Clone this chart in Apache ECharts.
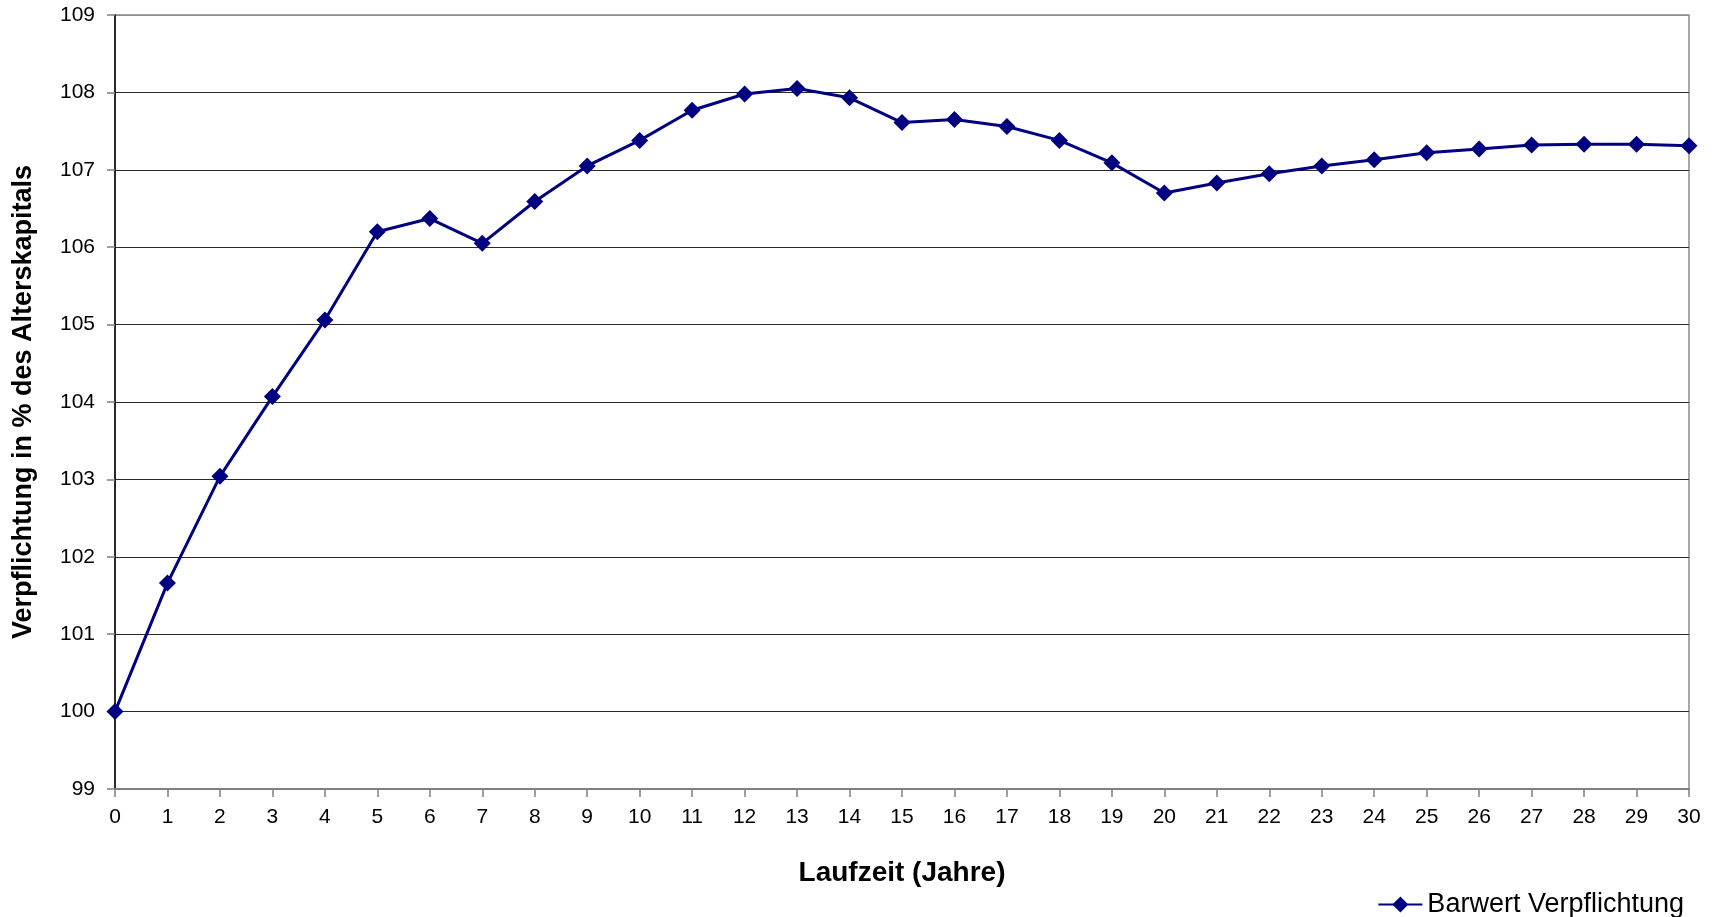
<!DOCTYPE html>
<html>
<head>
<meta charset="utf-8">
<script src="https://cdn.jsdelivr.net/npm/echarts@6/dist/echarts.min.js"></script>
<style>
  html, body { margin: 0; padding: 0; background: #fff; }
  #chart { width: 1716px; height: 917px; }
</style>
</head>
<body>
<div id="chart"></div>
<script>
// Laufzeit in Jahren (0 … 30)
const years = ['0','1','2','3','4','5','6','7','8','9','10','11','12','13','14','15',
               '16','17','18','19','20','21','22','23','24','25','26','27','28','29','30'];

// Barwert der Verpflichtung in % des Alterskapitals
const barwert = [100.00, 101.66, 103.04, 104.07, 105.06, 106.20, 106.37, 106.05, 106.59, 107.05,
                 107.38, 107.77, 107.98, 108.05, 107.93, 107.61, 107.65, 107.56, 107.38, 107.09,
                 106.70, 106.83, 106.95, 107.05, 107.13, 107.22, 107.27, 107.32, 107.33, 107.33,
                 107.31];

const seriesName = 'Barwert Verpflichtung';
const xTitle = 'Laufzeit (Jahre)';
const yTitle = 'Verpflichtung in % des Alterskapitals';

const FONT = '"Liberation Sans", Arial, sans-serif';

// gridlines 99 … 109; the outermost one sits on the grey plot frame
const gridColors = ['#2a2a2a','#2a2a2a','#2a2a2a','#2a2a2a','#2a2a2a','#2a2a2a',
                    '#2a2a2a','#2a2a2a','#2a2a2a','#2a2a2a','#8c8c8c'];

const chart = echarts.init(document.getElementById('chart'), null, { renderer: 'canvas' });

chart.setOption({
  backgroundColor: '#ffffff',
  animation: false,
  textStyle: { fontFamily: FONT, color: '#000' },
  grid: { left: 115, right: 27, top: 15, bottom: 128, show: true,
          borderColor: '#8c8c8c', borderWidth: 1.5 },
  legend: {
    right: 27, top: 886,
    itemWidth: 44, itemHeight: 20, itemGap: 8,
    textStyle: { fontFamily: FONT, fontSize: 27, color: '#000' },
    data: [seriesName]
  },
  xAxis: {
    type: 'category',
    data: years,
    boundaryGap: false,
    name: xTitle,
    nameLocation: 'middle',
    nameGap: 70,
    nameTextStyle: { fontFamily: FONT, fontSize: 28, fontWeight: 'bold', color: '#000' },
    axisLine: { lineStyle: { color: '#808080', width: 2 } },
    axisTick: { show: true, length: 8, alignWithLabel: true, lineStyle: { color: '#808080', width: 1.5 } },
    axisLabel: { fontFamily: FONT, fontSize: 21, color: '#000', margin: 18, interval: 0 },
    splitLine: { show: false }
  },
  yAxis: {
    type: 'value',
    min: 99, max: 109, interval: 1,
    name: yTitle,
    nameLocation: 'middle',
    nameGap: 78,
    nameRotate: 90,
    nameTextStyle: { fontFamily: FONT, fontSize: 27, fontWeight: 'bold', color: '#000' },
    axisLine: { show: true, lineStyle: { color: '#000', width: 1.5 } },
    axisTick: { show: true, length: 8, lineStyle: { color: '#808080', width: 1.5 } },
    axisLabel: { fontFamily: FONT, fontSize: 21, color: '#000', margin: 20 },
    splitLine: { show: true, lineStyle: { color: gridColors, width: 1.2 } }
  },
  series: [{
    name: seriesName,
    type: 'line',
    data: barwert,
    symbol: 'diamond',
    symbolSize: 17,
    showAllSymbol: true,
    clip: false,
    itemStyle: { color: '#000080' },
    lineStyle: { color: '#000080', width: 3 }
  }]
});
</script>
</body>
</html>
